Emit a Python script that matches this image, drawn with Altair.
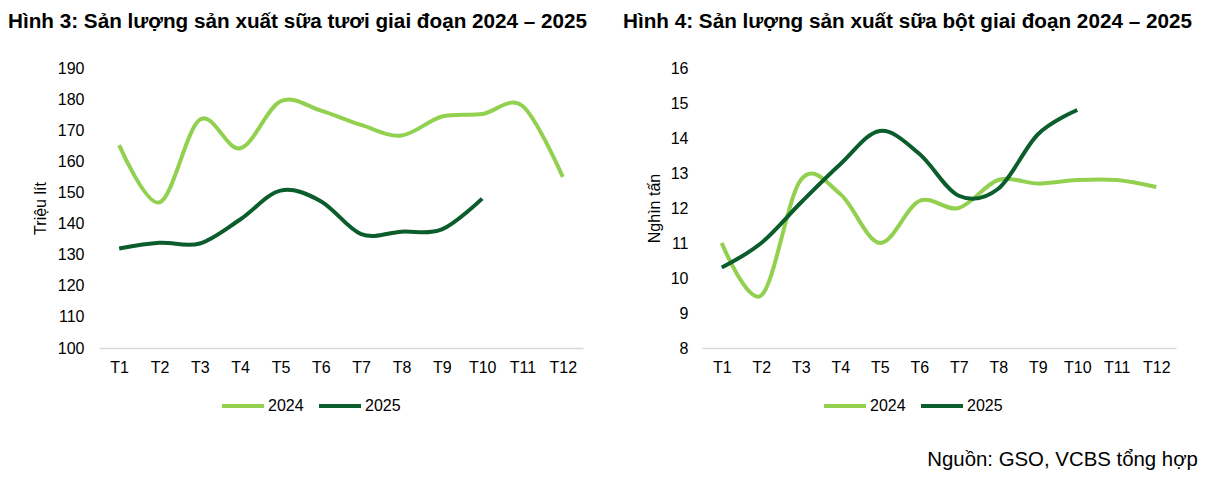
import altair as alt
import pandas as pd

months = ["T1", "T2", "T3", "T4", "T5", "T6", "T7", "T8", "T9", "T10", "T11", "T12"]

fresh_2024 = [165.2, 146.8, 173.4, 164.2, 179.3, 176.3, 171.7, 168.3, 174.4, 175.2, 177.8, 155.0]
fresh_2025 = [132.0, 133.8, 133.6, 141.3, 150.6, 147.2, 136.6, 137.4, 138.1, 148.0]

powder_2024 = [11.0, 9.5, 12.8, 12.4, 11.0, 12.2, 12.0, 12.8, 12.7, 12.8, 12.8, 12.6]
powder_2025 = [10.3, 11.0, 12.15, 13.25, 14.2, 13.55, 12.35, 12.55, 14.1, 14.8]

years = ["2024", "2025"]
colors = ["#92D050", "#0B5D2C"]

title_left = "Hình 3: Sản lượng sản xuất sữa tươi giai đoạn 2024 – 2025"
title_right = "Hình 4: Sản lượng sản xuất sữa bột giai đoạn 2024 – 2025"
source = "Nguồn: GSO, VCBS tổng hợp"

FONT = "Liberation Sans"


def long_df(a, b):
    rows = []
    for m, v in zip(months, a):
        rows.append({"month": m, "year": "2024", "value": v})
    for m, v in zip(months, b):
        rows.append({"month": m, "year": "2025", "value": v})
    return pd.DataFrame(rows)


def panel(df, title, ytitle, ydomain, yvalues, width, title_dx, lab_pad, tit_pad, leg_x):
    return alt.Chart(df).mark_line(interpolate="cardinal", strokeWidth=4).encode(
        x=alt.X("month:N", sort=months, title=None,
                scale=alt.Scale(type="point", padding=0.5),
                axis=alt.Axis(labelAngle=0, domainColor="#d9d9d9", domainWidth=1.5,
                              ticks=False, tickSize=0, labelPadding=11, grid=False)),
        y=alt.Y("value:Q", title=ytitle,
                scale=alt.Scale(domain=ydomain, nice=False, zero=False),
                axis=alt.Axis(values=yvalues, domain=False, ticks=False, tickSize=0,
                              grid=False, labelPadding=lab_pad, titlePadding=tit_pad)),
        color=alt.Color("year:N", scale=alt.Scale(domain=years, range=colors),
                        legend=alt.Legend(title=None, orient="none", direction="horizontal",
                                          legendX=leg_x, legendY=315,
                                          symbolType="stroke", symbolSize=1764,
                                          symbolStrokeWidth=4, labelOffset=2,
                                          columnPadding=7, padding=0,
                                          labelFontSize=16, labelFont=FONT,
                                          labelColor="black")),
    ).properties(
        width=width, height=280,
        title=alt.TitleParams(title, anchor="start", frame="group", dx=title_dx,
                              fontSize=20.7, fontWeight="bold", font=FONT,
                              color="black", offset=27),
    )


left = panel(long_df(fresh_2024, fresh_2025), title_left, "Triệu lít",
             [100, 190], list(range(100, 191, 10)), 484, -91, 15, 9, 121)
right = panel(long_df(powder_2024, powder_2025), title_right, "Nghìn tấn",
              [8, 16], list(range(8, 17)), 474, -79, 14, 8, 120)

chart = alt.hconcat(left, right, spacing=35).resolve_scale(
    color="independent"
).resolve_legend(color="independent").properties(
    padding={"left": 0, "top": 3, "right": 0, "bottom": 0},
    background="white",
    title=alt.TitleParams(source, orient="bottom", anchor="end", fontSize=20.4,
                          fontWeight="normal", font=FONT, color="black",
                          offset=36, dx=6),
).configure_view(stroke=None).configure_axis(
    labelFont=FONT, labelFontSize=16, labelColor="black",
    titleFont=FONT, titleFontSize=16, titleColor="black", titleFontWeight="normal",
)

chart.save("out.html", embed_options={"renderer": "svg", "actions": False})
